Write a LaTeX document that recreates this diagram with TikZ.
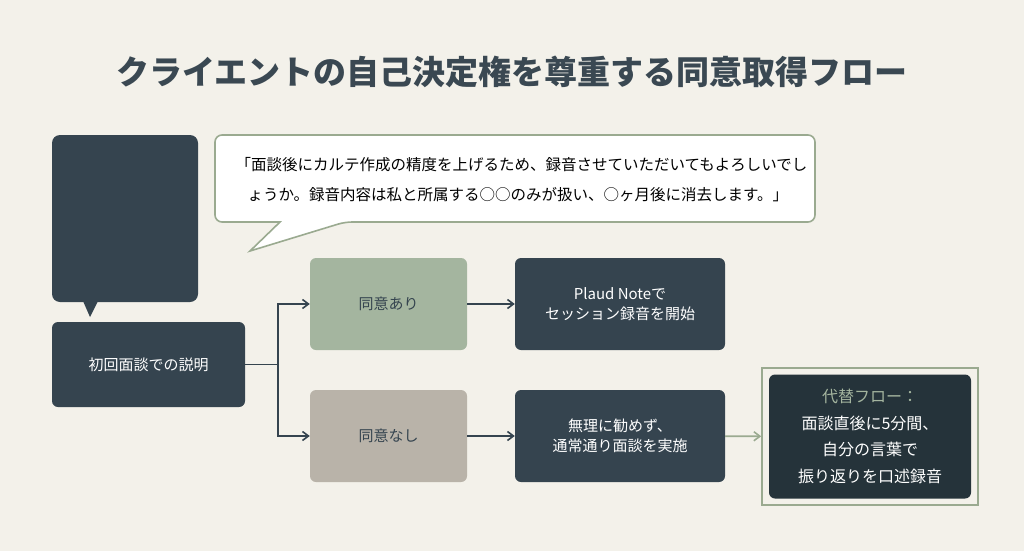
\documentclass[tikz,border=0pt]{standalone}
\usepackage{fontspec}
\setmainfont{Noto Sans CJK JP}
\usetikzlibrary{positioning}
\usetikzlibrary{arrows.meta}
\definecolor{bgColor}{HTML}{F3F1EA}
\definecolor{slateColor}{HTML}{35444F}
\definecolor{deepColor}{HTML}{25333A}
\definecolor{sageColor}{HTML}{A4B59F}
\definecolor{sageLine}{HTML}{9AAA90}
\definecolor{taupeColor}{HTML}{B9B3A9}
\definecolor{titleColor}{HTML}{3A4852}
\tikzstyle{stepBox} = [rounded corners=6pt, minimum width=157pt, minimum height=92pt, align=center, font=\fontsize{15}{20}\selectfont, inner sep=0pt]
\tikzstyle{darkBox} = [stepBox, fill=slateColor, text=white, minimum width=210pt]
\tikzstyle{flowArrow} = [draw=slateColor, line width=1.6pt, ->, >={Straight Barb[length=6pt,width=9pt]}]
\begin{document}
\begin{tikzpicture}[x=1pt, y=-1pt]
  \fill [bgColor] (0,0) rectangle (1024,551);
  \node [font=\bfseries\fontsize{33}{38}\selectfont, text=titleColor] (title) at (512,72) {クライエントの自己決定権を尊重する同意取得フロー};

  % speaker box and speech bubble
  \fill [slateColor, rounded corners=8pt] (52,135) rectangle (198,302);
  \fill [slateColor] (83,301) -- (90,317) -- (98,301) -- cycle;
  \draw [sageLine, line width=1.6pt, fill=white, rounded corners=7pt]
    (280,222) -- (215,222) -- (215,135) -- (815,135) -- (815,222) -- (345,222) [sharp corners] -- (250,251) -- cycle;
  \node [anchor=west, align=left, font=\fontsize{15.5}{30}\selectfont] (quote) at (232,180)
    {「面談後にカルテ作成の精度を上げるため、録音させていただいてもよろしいでし\\
    \hspace*{12pt}ょうか。録音内容は私と所属する○○のみが扱い、○ヶ月後に消去します。」};

  % flow
  \node [darkBox, minimum width=193pt, minimum height=85pt] (intro) at (148.5,364.5) {初回面談での説明};
  \node [stepBox, fill=sageColor, text=slateColor] (yes) at (388.5,304) {同意あり};
  \node [stepBox, fill=taupeColor, text=slateColor] (no) at (388.5,436) {同意なし};
  \node [darkBox] (record) at (620,304) {Plaud Noteで\\セッション録音を開始};
  \node [darkBox] (normal) at (620,436) {無理に勧めず、\\通常通り面談を実施};
  \node [draw=sageLine, line width=1.6pt, minimum width=216pt, minimum height=137pt] (altFrame) at (870,436.5) {};
  \node [stepBox, fill=deepColor, text=white, minimum width=202pt, minimum height=124pt, font=\fontsize{16}{26.5}\selectfont] (alt) at (870,436.5)
    {\textcolor{sageColor}{代替フロー：}\\面談直後に5分間、\\自分の言葉で\\振り返りを口述録音};
  \coordinate (split) at (278,364.5);
  \draw [slateColor, line width=1.6pt] (intro.east) -- (split);
  \draw [flowArrow] (split) |- (yes.west);
  \draw [flowArrow] (split) |- (no.west);
  \draw [flowArrow] (yes) -- (record);
  \draw [flowArrow] (no) -- (normal);
  \draw [flowArrow, draw=sageLine] (normal) -- (altFrame);
\end{tikzpicture}
\end{document}
